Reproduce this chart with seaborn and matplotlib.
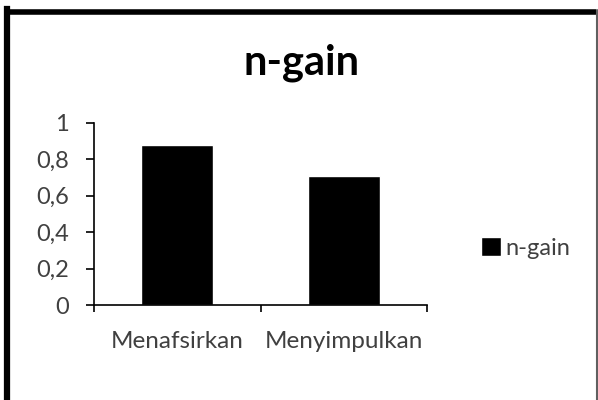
import matplotlib
matplotlib.use("Agg")
import matplotlib.pyplot as plt
from matplotlib.lines import Line2D
from matplotlib.ticker import FixedLocator, FuncFormatter
import seaborn as sns

categories = ["Menafsirkan", "Menyimpulkan"]
n_gain = [0.88, 0.71]
series_name = "n-gain"
y_ticks = [0, 0.2, 0.4, 0.6, 0.8, 1.0]

sns.set_theme(style="white")
plt.rcParams["font.family"] = ["Lato", "DejaVu Sans"]

W, H = 598, 400
fig = plt.figure(figsize=(W / 100, H / 100), dpi=100)
ax = fig.add_axes([94 / W, 1 - 305 / H, (427 - 94) / W, (305 - 123) / H])

sns.barplot(x=categories, y=n_gain, color="black", saturation=1,
            width=0.43, label=series_name, ax=ax)

text_grey = "#404040"
ax.set_xlim(-0.5, 1.5)
ax.set_ylim(0, 1)
ax.set_yticks(y_ticks)
ax.yaxis.set_major_formatter(FuncFormatter(lambda v, _: f"{v:g}".replace(".", ",")))
ax.set_xlabel("")
ax.set_ylabel("")

for side in ("top", "right"):
    ax.spines[side].set_visible(False)
for side in ("left", "bottom"):
    ax.spines[side].set_color("black")
    ax.spines[side].set_linewidth(1.2)

ax.tick_params(axis="y", direction="out", length=6, width=1.2, color="black",
               left=True, pad=12, labelsize=17, labelcolor=text_grey)
ax.tick_params(axis="x", which="major", length=0, pad=19,
               labelsize=17.5, labelcolor=text_grey)
ax.xaxis.set_minor_locator(FixedLocator([-0.5, 0.5, 1.5]))
ax.tick_params(axis="x", which="minor", direction="out", length=5, width=1.2,
               color="black", bottom=True)

fig.text(302 / W, 1 - 75 / H, "n-gain", ha="center", va="baseline",
         fontsize=30, fontweight="bold", color="black")

ax.legend(loc="center left", bbox_to_anchor=(481 / W, 1 - 248 / H),
          bbox_transform=fig.transFigure, frameon=False, borderpad=0,
          borderaxespad=0, handlelength=0.85, handleheight=0.85,
          handletextpad=0.2, fontsize=17, labelcolor=text_grey)

# chart-area frame
fig.add_artist(Line2D([7 / W, 7 / W], [0, 1 - 9 / H], transform=fig.transFigure,
                      color="black", linewidth=4.5, solid_capstyle="projecting"))
fig.add_artist(Line2D([7 / W, 596 / W], [1 - 11.5 / H, 1 - 11.5 / H],
                      transform=fig.transFigure, color="black", linewidth=4,
                      solid_capstyle="butt"))
fig.add_artist(Line2D([596.5 / W, 596.5 / W], [0, 1 - 10 / H],
                      transform=fig.transFigure, color="#606060", linewidth=1.5))

fig.savefig("out.png", dpi=100)
